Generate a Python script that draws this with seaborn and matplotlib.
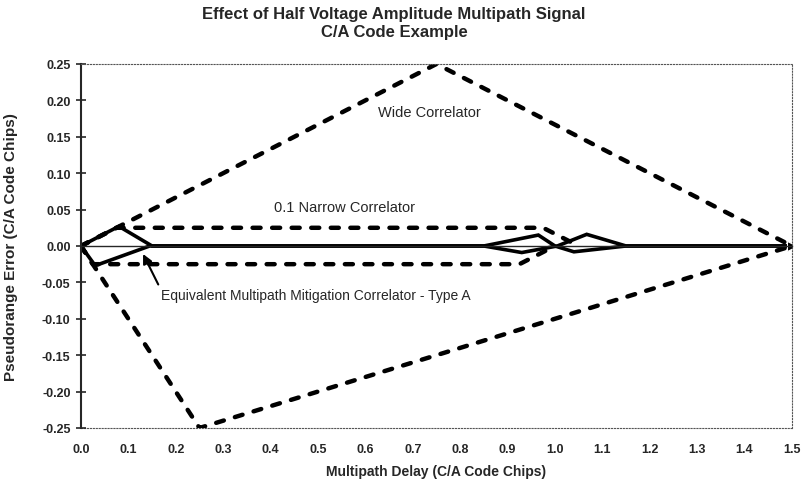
import matplotlib
matplotlib.use("Agg")
import matplotlib.pyplot as plt
import numpy as np
import pandas as pd
import seaborn as sns

sns.set_style("white")
plt.rcParams['font.family'] = ['Liberation Sans', 'DejaVu Sans']

# multipath error envelopes (C/A code chips)
wide_up_x = [0.0, 0.75, 1.5]
wide_up_y = [0.0, 0.25, 0.0]
wide_lo_x = [0.0, 0.25, 1.5]
wide_lo_y = [0.0, -0.25, 0.0]

narrow_up_x = [0.0, 0.075, 0.975, 1.05]
narrow_up_y = [0.0, 0.025, 0.025, 0.0]
narrow_lo_x = [0.0, 0.025, 0.925, 1.0]
narrow_lo_y = [0.0, -0.025, -0.025, 0.0]

emmc_up_x = [0.0, 0.08, 0.15, 0.85, 0.965, 1.0, 1.04, 1.15, 1.5]
emmc_up_y = [0.0, 0.027, 0.0, 0.0, 0.015, 0.0, -0.008, 0.0, 0.0]
emmc_lo_x = [0.0, 0.03, 0.145, 0.85, 0.93, 1.005, 1.067, 1.15, 1.5]
emmc_lo_y = [0.0, -0.027, 0.0, 0.0, -0.009, 0.0, 0.016, 0.0, 0.0]

x_ticks = np.round(np.arange(0, 1.51, 0.1), 2)
y_ticks = np.round(np.arange(-0.25, 0.26, 0.05), 2)

fig = plt.figure(figsize=(8.04, 4.85), dpi=100)
ax = fig.add_axes([0.1007, 0.1155, 0.8843, 0.7505])

dash = dict(color='black', lw=3.2, linestyle=(0, (1.8, 2.6)), dash_capstyle='round')
for xs, ys in [(wide_up_x, wide_up_y), (wide_lo_x, wide_lo_y),
               (narrow_up_x, narrow_up_y), (narrow_lo_x, narrow_lo_y)]:
    df = pd.DataFrame({"x": xs, "y": ys})
    sns.lineplot(data=df, x="x", y="y", ax=ax, sort=False, estimator=None, **dash)

for xs, ys in [(emmc_up_x, emmc_up_y), (emmc_lo_x, emmc_lo_y)]:
    df = pd.DataFrame({"x": xs, "y": ys})
    sns.lineplot(data=df, x="x", y="y", ax=ax, sort=False, estimator=None,
                 color='black', lw=2.6, solid_joinstyle='miter',
                 marker='>', markevery=[-1], markersize=7)

ax.set_xlim(0, 1.5)
ax.set_ylim(-0.25, 0.25)

# zero axis line with small ticks, labels on a separate axis at the bottom
ax.spines['bottom'].set_position(('data', 0))
ax.spines['bottom'].set_linewidth(1.0)
ax.set_xticks(x_ticks)
ax.tick_params(axis='x', direction='out', length=3, width=0.8, labelbottom=False)

sec = ax.secondary_xaxis('bottom')
sec.set_xticks(x_ticks)
sec.set_xticklabels([f"{v:.1f}" for v in x_ticks], fontsize=9, fontweight='bold')
sec.tick_params(length=0, pad=11)
sec.spines['bottom'].set_linestyle(':')
sec.spines['bottom'].set_linewidth(0.8)
sec.spines['bottom'].set_color('#555555')
sec.set_xlabel("Multipath Delay (C/A Code Chips)", fontsize=10, fontweight='bold', labelpad=6)

ax.set_yticks(y_ticks)
ax.set_yticklabels([f"{v:.2f}" if v != 0 else "0.00" for v in y_ticks],
                   fontsize=9, fontweight='bold')
ax.tick_params(axis='y', direction='inout', length=7, width=1.2, left=True, pad=4)
ax.spines['left'].set_linewidth(1.5)
for s in ['top', 'right']:
    ax.spines[s].set_linestyle(':')
    ax.spines[s].set_linewidth(0.8)
    ax.spines[s].set_color('#555555')
ax.set_xlabel("")
ax.set_ylabel("Pseudorange Error (C/A Code Chips)", fontsize=11, fontweight='bold')
ax.yaxis.set_label_coords(-0.088, 0.5)

ax.text(0.736, 0.184, "Wide Correlator", fontsize=10.5, ha='center', va='center')
ax.text(0.557, 0.054, "0.1 Narrow Correlator", fontsize=10.5, ha='center', va='center')
ax.annotate("Equivalent Multipath Mitigation Correlator - Type A",
            xy=(0.131, -0.011), xytext=(0.168, -0.067), fontsize=10,
            ha='left', va='center',
            arrowprops=dict(arrowstyle='-|>', color='black', lw=1.5,
                            mutation_scale=14, shrinkA=0, shrinkB=0,
                            relpos=(0, 0.9)))

fig.suptitle("Effect of Half Voltage Amplitude Multipath Signal\nC/A Code Example",
             x=0.49, y=0.985, fontsize=12, fontweight='bold', linespacing=1.25)

fig.savefig("out.png", dpi=100)
